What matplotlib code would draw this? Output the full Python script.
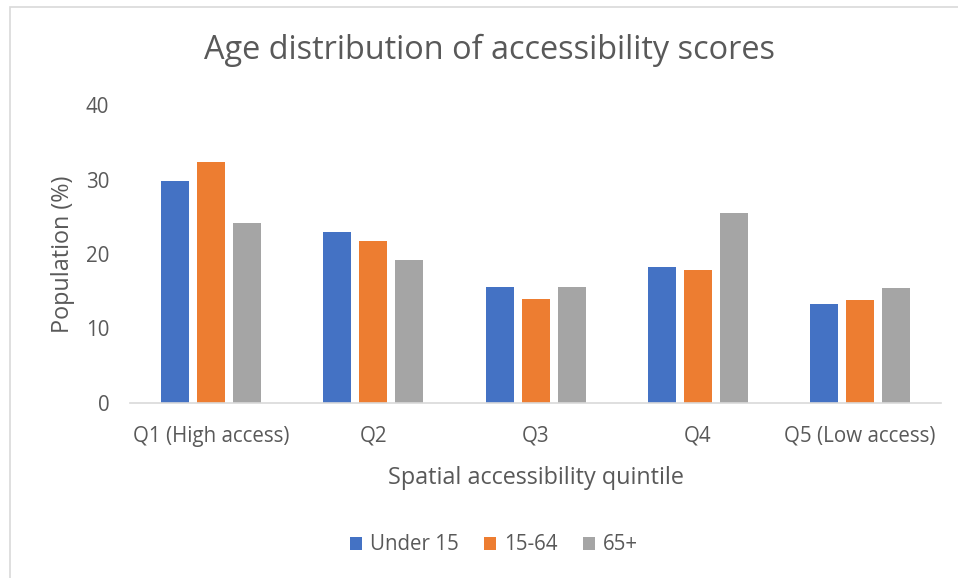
import numpy as np
import matplotlib.pyplot as plt
from matplotlib.patches import Rectangle

# population share (%) by spatial accessibility quintile
quintiles = ['Q1 (High access)', 'Q2', 'Q3', 'Q4', 'Q5 (Low access)']
under_15 = [29.8, 22.9, 15.6, 18.2, 13.3]
age_15_64 = [32.4, 21.8, 14.0, 17.8, 13.8]
age_65_plus = [24.1, 19.2, 15.6, 25.5, 15.4]

series = [('Under 15', under_15, '#4472c4'),
          ('15-64', age_15_64, '#ed7d31'),
          ('65+', age_65_plus, '#a5a5a5')]

plt.rcParams['font.family'] = ['Open Sans', 'DejaVu Sans']
text_col = '#595959'

W, H = 958, 578
fig = plt.figure(figsize=(W / 100, H / 100), dpi=100)

# chart area frame
fig.patches.append(Rectangle((10 / W, -0.1), 2, (1 - 7 / H) + 0.1, transform=fig.transFigure,
                             fill=False, edgecolor='#d9d9d9', linewidth=1.2))

ax = fig.add_axes([130 / W, 1 - 403 / H, 811 / W, 298 / H])

x = np.arange(len(quintiles))
bar_w = 28 / 162.2
step = 36 / 162.2
for i, (name, vals, col) in enumerate(series):
    ax.bar(x + (i - 1) * step, vals, width=bar_w, color=col, label=name)

ax.set_xlim(-0.5, len(quintiles) - 0.5)
ax.set_ylim(0, 40)
ax.set_yticks([0, 10, 20, 30, 40])
ax.set_xticks(x)
ax.set_xticklabels(quintiles)

for s in ['top', 'right', 'left']:
    ax.spines[s].set_visible(False)
ax.spines['bottom'].set_color('#d9d9d9')
ax.spines['bottom'].set_linewidth(1.2)
ax.tick_params(axis='both', length=0, colors=text_col, labelsize=14.8)
ax.tick_params(axis='y', pad=15)
ax.tick_params(axis='x', pad=16.5)

ax.set_ylabel('Population (%)', fontsize=16.8, color=text_col, labelpad=8)
ax.set_xlabel('Spatial accessibility quintile', fontsize=16.8, color=text_col, labelpad=14)

fig.text(490 / W, 1 - 50 / H, 'Age distribution of accessibility scores',
         ha='center', va='center', fontsize=23.4, color=text_col)

fig.legend(loc='center', bbox_to_anchor=(494 / W, 1 - 545 / H), ncol=3, frameon=False,
           fontsize=14.8, labelcolor=text_col, handlelength=0.6, handleheight=0.6,
           handletextpad=0.4, columnspacing=1.2)

fig.savefig('out.png', dpi=100)
